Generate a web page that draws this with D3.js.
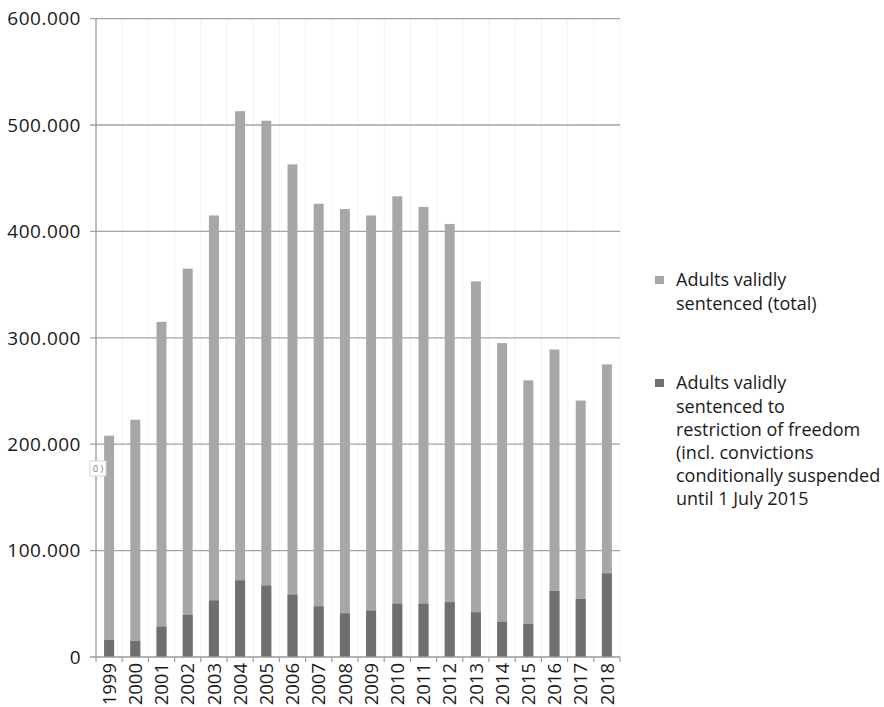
<!DOCTYPE html>
<html>
<head>
<meta charset="utf-8">
<script src="https://cdn.jsdelivr.net/npm/d3@7"></script>
<style>
  html, body { margin: 0; padding: 0; background: #fff; }
  svg { display: block; }
  text { font-family: "Open Sans", "Noto Sans", sans-serif; fill: #1a1a1a; }
</style>
</head>
<body>
<svg id="chart" width="884" height="707"></svg>
<script>
// Adults validly sentenced per year
const years = ["1999","2000","2001","2002","2003","2004","2005","2006","2007","2008",
               "2009","2010","2011","2012","2013","2014","2015","2016","2017","2018"];
const totalSentenced = [208000, 223000, 315000, 365000, 415000, 513000, 504000, 463000, 426000, 421000,
                        415000, 433000, 423000, 407000, 353000, 295000, 260000, 289000, 241000, 275000];
const restrictionOfFreedom = [16000, 15000, 28500, 39500, 53000, 72000, 67000, 58500, 47500, 41000,
                              43500, 50000, 50000, 51500, 42000, 33000, 31000, 62000, 54500, 78500];
const yTicks = [0, 100000, 200000, 300000, 400000, 500000, 600000];
const yTickLabels = ["0", "100.000", "200.000", "300.000", "400.000", "500.000", "600.000"];
const legendItems = [
  { lines: ["Adults validly", "sentenced (total)"], color: "#a7a7a7" },
  { lines: ["Adults validly", "sentenced to", "restriction of freedom", "(incl. convictions",
            "conditionally suspended", "until 1 July 2015"], color: "#6f6f6f" }
];

const svg = d3.select("#chart");
const plotLeft = 96, plotRight = 620, plotTop = 18.6, plotBottom = 657;

const x = d3.scaleBand().domain(years).range([plotLeft, plotRight]).paddingInner(0.62).paddingOuter(0.31);
const y = d3.scaleLinear().domain([0, 600000]).range([plotBottom, plotTop]);

// faint vertical separators between categories
const step = x.step();
const bounds = d3.range(years.length + 1).map(i => plotLeft + i * step);
svg.append("g").selectAll("line").data(bounds).join("line")
  .attr("x1", d => d).attr("x2", d => d)
  .attr("y1", plotTop).attr("y2", plotBottom)
  .attr("stroke", "#f2f2f2").attr("stroke-width", 1);

// horizontal gridlines with short ticks to the left
svg.append("g").selectAll("line").data(yTicks.slice(1)).join("line")
  .attr("x1", plotLeft - 6).attr("x2", plotRight)
  .attr("y1", d => y(d)).attr("y2", d => y(d))
  .attr("stroke", "#a3a3a3").attr("stroke-width", 1.3);

// y tick labels
svg.append("g").selectAll("text").data(yTicks).join("text")
  .attr("x", 81).attr("y", d => y(d))
  .attr("dy", "0.36em")
  .attr("text-anchor", "end")
  .attr("font-size", 19)
  .attr("letter-spacing", 0.5)
  .text((d, i) => yTickLabels[i]);

// total bars (light) behind restriction bars (dark)
svg.append("g").selectAll("rect").data(years).join("rect")
  .attr("x", d => x(d)).attr("width", x.bandwidth())
  .attr("y", (d, i) => y(totalSentenced[i]))
  .attr("height", (d, i) => plotBottom - y(totalSentenced[i]))
  .attr("fill", legendItems[0].color);

svg.append("g").selectAll("rect").data(years).join("rect")
  .attr("x", d => x(d)).attr("width", x.bandwidth())
  .attr("y", (d, i) => y(restrictionOfFreedom[i]))
  .attr("height", (d, i) => plotBottom - y(restrictionOfFreedom[i]))
  .attr("fill", legendItems[1].color);

// axes lines
svg.append("line").attr("x1", plotLeft).attr("x2", plotLeft).attr("y1", plotTop).attr("y2", plotBottom)
  .attr("stroke", "#9a9a9a").attr("stroke-width", 1.3);
svg.append("line").attr("x1", plotLeft - 6).attr("x2", plotRight).attr("y1", plotBottom).attr("y2", plotBottom)
  .attr("stroke", "#9a9a9a").attr("stroke-width", 1.3);
svg.append("g").selectAll("line").data(bounds).join("line")
  .attr("x1", d => d).attr("x2", d => d)
  .attr("y1", plotBottom).attr("y2", plotBottom + 5)
  .attr("stroke", "#9a9a9a").attr("stroke-width", 1.2);

// x tick labels, rotated
svg.append("g").selectAll("text").data(years).join("text")
  .attr("transform", d => `translate(${x(d) + x.bandwidth() / 2},${plotBottom + 6}) rotate(-90)`)
  .attr("text-anchor", "end")
  .attr("dy", "0.36em")
  .attr("font-size", 18.5)
  .text(d => d);

// small leftover tooltip box
const tip = svg.append("g").attr("transform", "translate(90,461)");
tip.append("rect").attr("width", 16).attr("height", 15)
  .attr("fill", "#fff").attr("stroke", "#d8d8d8").attr("stroke-width", 1);
tip.append("text").attr("x", 8).attr("y", 11).attr("text-anchor", "middle")
  .attr("font-size", 9).style("fill", "#777").text("0 )");

// legend
const legendTops = [280, 383];
const lineH = 23.2;
legendItems.forEach((item, k) => {
  const g = svg.append("g");
  g.append("rect").attr("x", 655).attr("y", legendTops[k] - 4)
    .attr("width", 9).attr("height", 8).attr("fill", item.color);
  g.selectAll("text").data(item.lines).join("text")
    .attr("x", 676).attr("y", (d, i) => legendTops[k] + i * lineH)
    .attr("dy", "0.36em")
    .attr("font-size", 18)
    .text(d => d);
});
</script>
</body>
</html>
